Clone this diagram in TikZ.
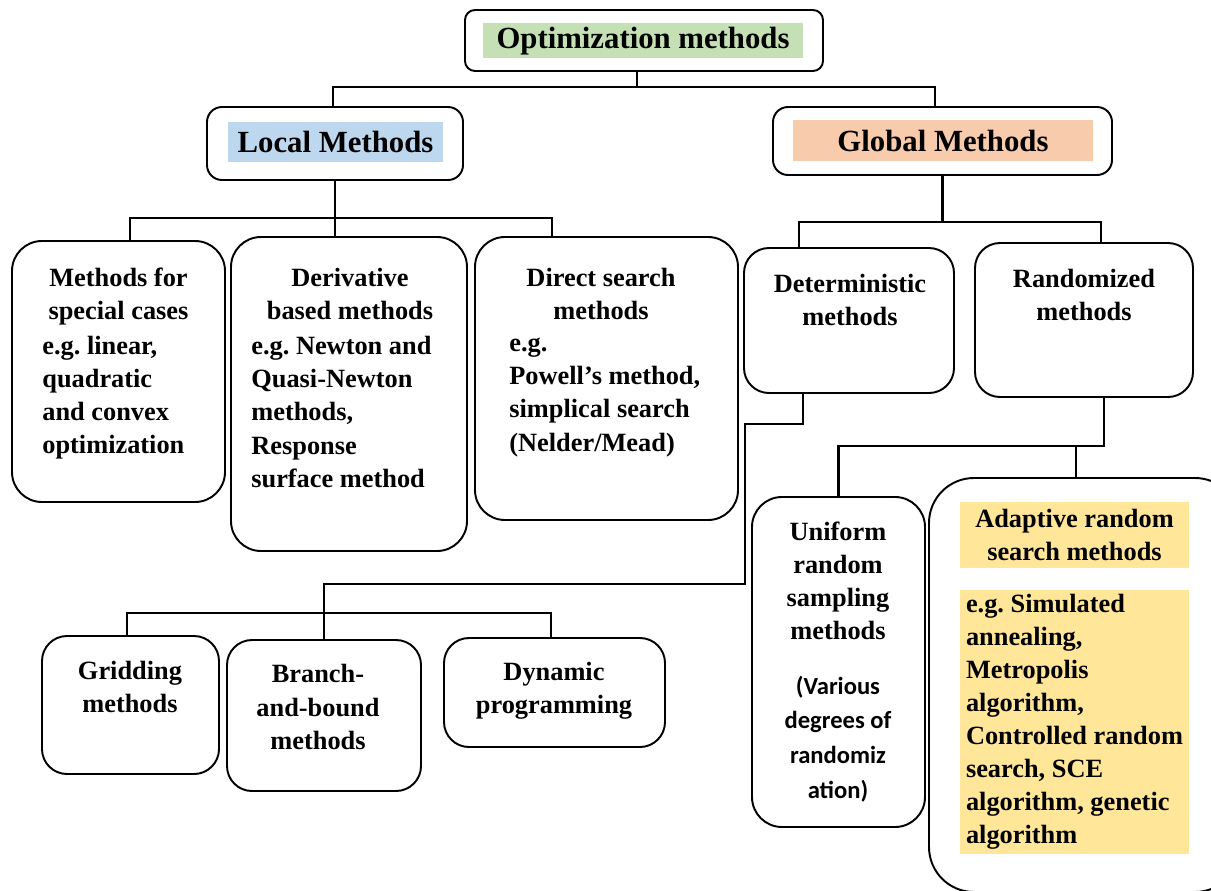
\documentclass[tikz,border=0pt]{standalone}
\usepackage{fontspec}
\setmainfont{Liberation Serif}
\newfontfamily\calibrifont{Carlito}
\usepackage{tikz}
\frenchspacing

\definecolor{optgreen}{HTML}{C5E0B4}
\definecolor{localblue}{HTML}{BDD7EE}
\definecolor{globalorange}{HTML}{F8CBAD}
\definecolor{adaptyellow}{HTML}{FFE699}

\begin{document}
\begin{tikzpicture}
          [x=0.2mm,y=-0.2mm,
          box/.style={draw=black,line width=1.1pt,rounded corners=6mm,inner sep=0pt},
          headbox/.style={box,rounded corners=3mm},
          head/.style={font=\fontsize{17.5}{21}\selectfont\bfseries,inner sep=0pt},
          txt/.style={font=\fontsize{15}{18.8}\selectfont\bfseries,inner sep=0pt,align=center,yshift=-0.8mm},
          body/.style={txt,align=left,anchor=west},
          hilite/.style={font=\fontsize{15}{18.8}\selectfont\bfseries,fill=adaptyellow,inner sep=0pt,minimum width=45.8mm},
          link/.style={line width=1.3pt}]

          \useasboundingbox (0,0) rectangle (1211,890);
          \clip (0,0) rectangle (1211,890);

            % top level
            \node (opt) [box,rounded corners=2mm,minimum width=71.6mm,minimum height=12.2mm] at (644,40.5) {};
            \node (opttxt) [head,fill=optgreen,minimum width=64mm,minimum height=7mm,text depth=0.9mm] at (643,40.5) {Optimization methods};
            \node (local) [headbox,minimum width=51.2mm,minimum height=14.6mm] at (335,143.5) {};
            \node (localtxt) [head,fill=localblue,minimum width=43mm,minimum height=8mm] at (335.5,142) {Local Methods};
            \node (global) [headbox,minimum width=67.8mm,minimum height=13.6mm] at (942.5,141) {};
            \node (globaltxt) [head,fill=globalorange,minimum width=60mm,minimum height=8.2mm] at (943,140.5) {Global Methods};

            % local methods
            \node (special) [box,minimum width=42.6mm,minimum height=52.2mm] at (118.5,371.5) {};
            \node (specialtit) [txt] at (118.5,293) {Methods for\\special cases};
            \node (specialtxt) [body] at (42,393.5) {e.g. linear,\\quadratic\\and convex\\optimization};
            \node (deriv) [box,minimum width=47.2mm,minimum height=62.8mm] at (349,394) {};
            \node (derivtit) [txt] at (350,290) {Derivative\\based methods};
            \node (derivtxt) [body] at (251,408) {e.g. Newton and\\Quasi-Newton\\methods,\\Response\\surface method};
            \node (direct) [box,minimum width=52.6mm,minimum height=56.6mm] at (606.5,378.5) {};
            \node (directtit) [txt] at (601,289.5) {Direct search\\methods};
            \node (directtxt) [body] at (509,393.5) {e.g.\\Powell's method,\\simplical search\\(Nelder/Mead)};

            % global methods
            \node (det) [box,rounded corners=5mm,minimum width=42mm,minimum height=29mm] at (849,320.5) {};
            \node (dettxt) [txt] at (850,295.5) {Deterministic\\methods};
            \node (rand) [box,rounded corners=5mm,minimum width=43.6mm,minimum height=30.8mm] at (1084,320) {};
            \node (randtxt) [txt] at (1084,290.5) {Randomized\\methods};

            \node (grid) [box,rounded corners=5mm,minimum width=35.4mm,minimum height=27.6mm] at (130.5,705) {};
            \node (gridtxt) [txt] at (130,682.5) {Gridding\\methods};
            \node (bnb) [box,rounded corners=5mm,minimum width=38.8mm,minimum height=30.2mm] at (324,715.5) {};
            \node (bnbtxt) [txt] at (318,703) {Branch-\\and-bound\\methods};
            \node (dyn) [box,rounded corners=5mm,minimum width=44.2mm,minimum height=21.8mm] at (554.5,692.5) {};
            \node (dyntxt) [txt] at (554,686.5) {Dynamic\\programming};

            \node (unif) [box,minimum width=34.6mm,minimum height=66mm] at (838.5,662) {};
            \node (uniftit) [txt] at (838,576.5) {Uniform\\random\\sampling\\methods};
            \node (unifnote) [txt,yshift=0.8mm,font=\fontsize{14}{19.7}\selectfont\bfseries\calibrifont] at (838,739) {(Various\\degrees of\\randomiz\\ation)};
            \node (adapt) [box,rounded corners=9mm,minimum width=62.2mm,minimum height=82.8mm] at (1084.5,685) {};
            \node (adapttit) [hilite,align=center,minimum height=13.2mm] at (1074.5,535) {Adaptive random\\search methods};
            \node (adapttxt) [hilite,align=left,minimum height=52.8mm] at (1074.5,722) {e.g. Simulated\\annealing,\\Metropolis\\algorithm,\\Controlled random\\search, SCE\\algorithm, genetic\\algorithm};

          \coordinate (t0) at (637,87);
          \coordinate (t1) at (333,87);
          \coordinate (t2) at (935,87);
          \coordinate (l1) at (130,218);
          \coordinate (l3) at (552,218);
          \coordinate (g1) at (799,222);
          \coordinate (g2) at (1101,222);
          \coordinate (d1) at (803,424);
          \coordinate (d2) at (745,584);
          \coordinate (b1) at (127,613);
          \coordinate (b3) at (551,613);
          \coordinate (r1) at (1104,446);
          \coordinate (r2) at (1076,446);

          \draw [link] (opt.south -| t0) -- (t0);
            \draw [link] (local.north -| t1) |- (t2) -- (global.north -| t2);
            \draw [link] (local.south) -- (deriv.north -| local.south);
            \draw [link] (special.north -| l1) |- (l3) -- (direct.north -| l3);
            \draw [link] (global.south) -- (global.south |- g1);
            \draw [link] (det.north -| g1) |- (g2) -- (rand.north -| g2);
            \draw [link] (det.south -| d1) -- (d1) -| (d2) -| (bnb.north);
            \draw [link] (grid.north -| b1) |- (b3) -- (dyn.north -| b3);
            \draw [link] (rand.south -| r1) -- (r1) -| (unif.north);
            \draw [link] (r2) -- (adapt.north -| r2);

        \end{tikzpicture}
\end{document}
